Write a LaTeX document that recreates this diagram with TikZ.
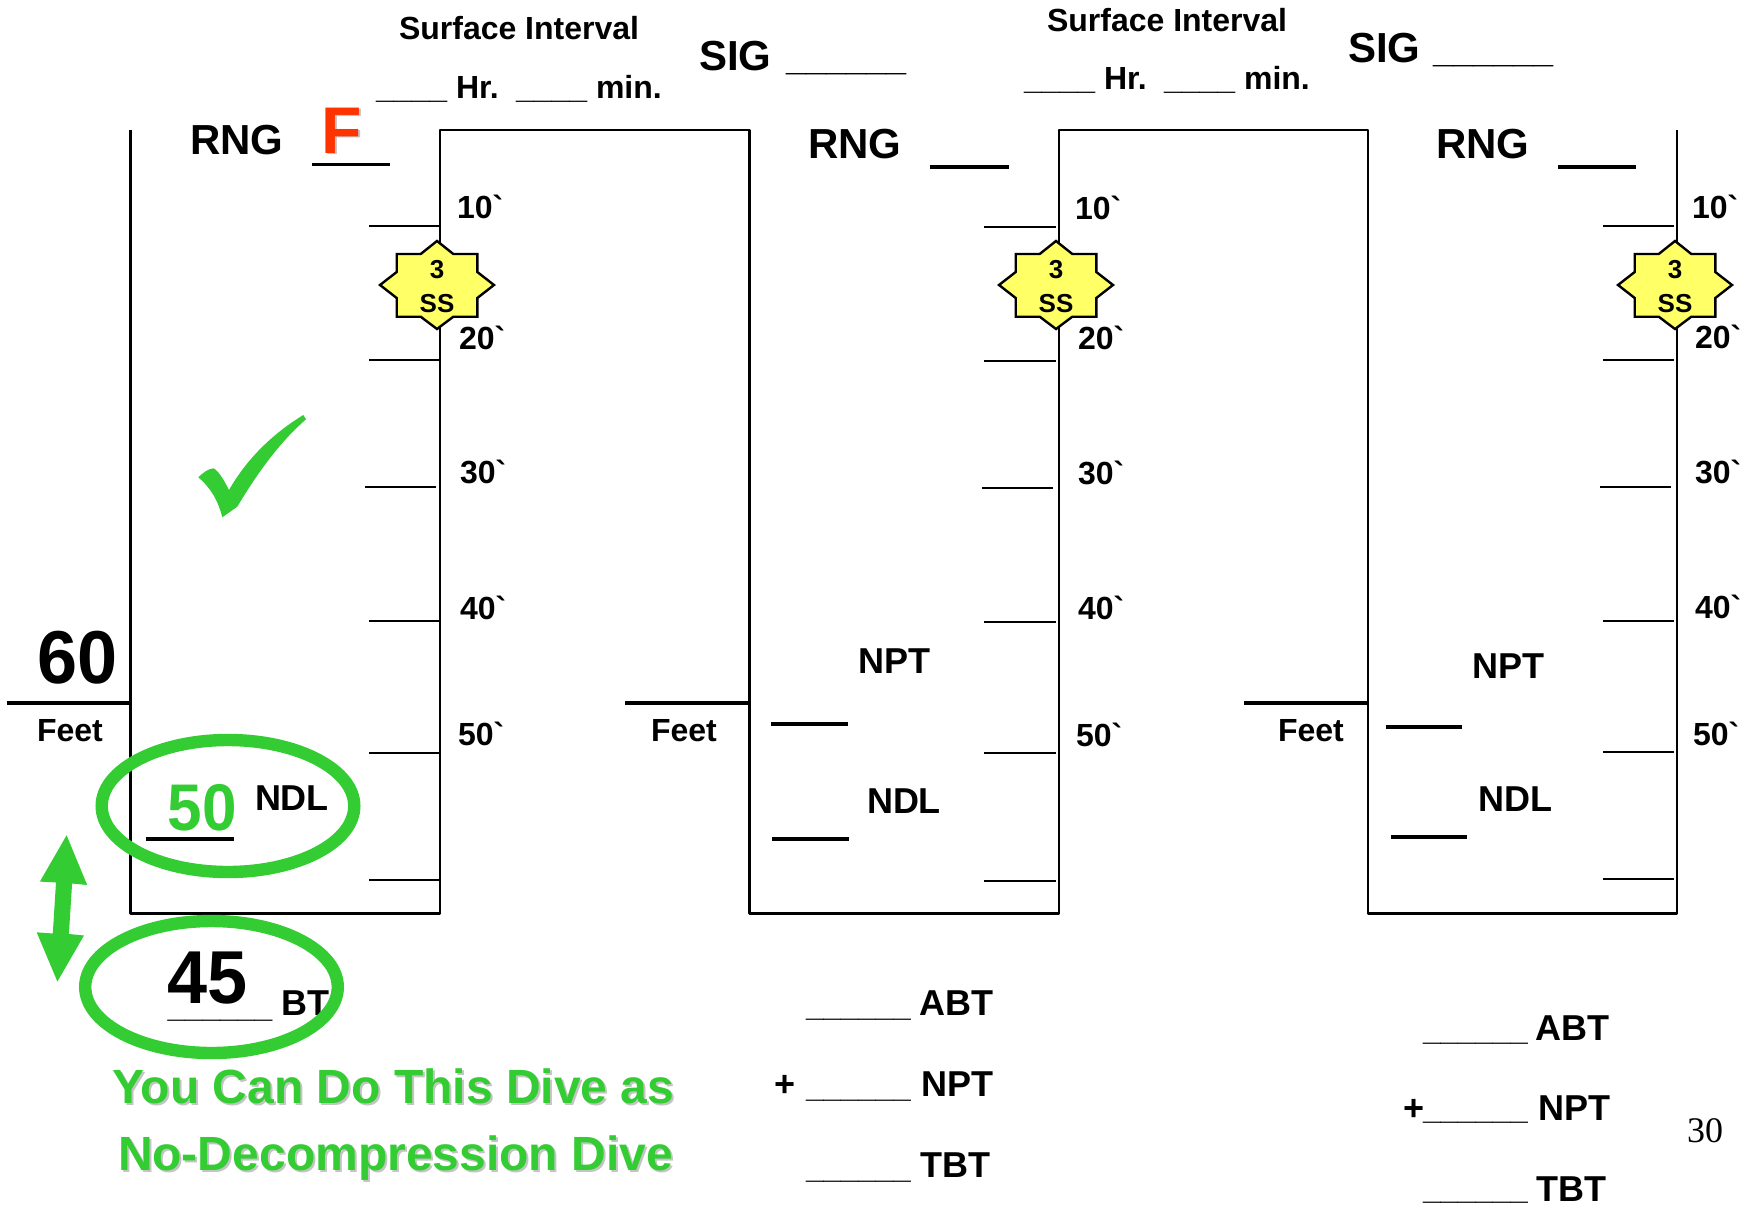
\documentclass[tikz,border=0pt]{standalone}
\usepackage{fontspec}
\usepackage{graphicx}
\newfontfamily\hel{Liberation Sans}
\newfontfamily\tim{Liberation Serif}
\definecolor{grn}{HTML}{33CC33}
\definecolor{star}{HTML}{FFFF66}
\definecolor{red1}{HTML}{FF3300}
\definecolor{shd}{HTML}{C4C4C4}
% \lab{name}{x}{baseline y}{em px}{x squeeze}{text}
\newcommand\fz[1]{\pgfmathsetmacro\fsz{#1/2}\fontsize{\fsz}{\fsz}\selectfont}
\newcommand\lab[6]{\node[lbl] (#1) at (#2,#3) {\fz{#4}\scalebox{#5}[1]{#6}};}
\newcommand\labc[7]{\node[lbl,text=#7] (#1) at (#2,#3) {\fz{#4}\scalebox{#5}[1]{#6}};}
\newcommand\us[1]{\foreach \i in {1,...,#1}{\_}}
\newcommand\stardive[2]{%
  \coordinate (#1) at (#2,285);
  \draw[fill=star,draw=black,line width=1.2pt,line join=miter]
    (#1) ++(0,-44) -- ++(16.3,13) -- ++(24,0) -- ++(0,18) -- ++(16.7,13) -- ++(-16.7,13) -- ++(0,18.7)
    -- ++(-24,0) -- ++(-16.3,12.3) -- ++(-16.3,-12.3) -- ++(-24,0) -- ++(0,-18.7) -- ++(-16.7,-13) -- ++(16.7,-13) -- ++(0,-18) -- ++(24,0) -- cycle;
  \node[lbl,anchor=base] (#1n) at (#2,278) {\fontsize{13}{13}\selectfont 3};
  \node[lbl,anchor=base] (#1s) at (#2,312) {\fontsize{13}{13}\selectfont SS};}
\tikzset{lbl/.style={anchor=base west,inner sep=0pt,outer sep=0pt,font=\hel\bfseries},
  wall/.style={draw=black,line width=1.1pt,line join=round},
  tick/.style={draw=black,line width=0.7pt},
  bar/.style={draw=black,line width=1.8pt},
  ring/.style={draw=grn,line width=6.2pt}}
\begin{document}
\begin{tikzpicture}[x=0.5pt,y=-0.5pt]
\useasboundingbox (0,0) rectangle (1743,1204);
\fill[white] (0,0) rectangle (1743,1204);
% profile
\draw[wall] (130.5,130) -- (130.5,913.5) -- (440,913.5) -- (440,130) -- (749.5,130) -- (749.5,913.5) -- (1059,913.5) -- (1059,130) -- (1368,130) -- (1368,913.5) -- (1677,913.5) -- (1677,130);
% ticks
\foreach \y in {226,360,621,753,880} \draw[tick] (369,\y) -- (440,\y);
\draw[tick] (365,487) -- (436,487);
\foreach \y in {227,361,622,753,881} \draw[tick] (984,\y) -- (1056,\y);
\draw[tick] (982,488) -- (1053,488);
\foreach \y in {226,360,621,752,879} \draw[tick] (1603,\y) -- (1674,\y);
\draw[tick] (1600,487) -- (1671,487);
% tick labels
\lab{a10}{457}{218}{32}{1}{10`}
\lab{a20}{459}{349}{32}{1}{20`}
\lab{a30}{460}{483}{32}{1}{30`}
\lab{a40}{460}{619}{32}{1}{40`}
\lab{a50}{458}{745}{32}{1}{50`}
\lab{b10}{1075}{219}{32}{1}{10`}
\lab{b20}{1078}{349}{32}{1}{20`}
\lab{b30}{1078}{484}{32}{1}{30`}
\lab{b40}{1078}{619}{32}{1}{40`}
\lab{b50}{1076}{746}{32}{1}{50`}
\lab{c10}{1692}{218}{32}{1}{10`}
\lab{c20}{1695}{348}{32}{1}{20`}
\lab{c30}{1695}{483}{32}{1}{30`}
\lab{c40}{1695}{618}{32}{1}{40`}
\lab{c50}{1693}{745}{32}{1}{50`}
% stars
\stardive{sa}{437}
\stardive{sb}{1056}
\stardive{sc}{1675}
% top labels
\lab{si1}{399}{40}{32}{1}{Surface Interval}
\lab{hr1}{376}{98}{32}{1}{\us{4} Hr.}
\lab{mn1}{516}{98}{32}{1}{\us{4} min.}
\lab{sg1}{699}{71}{42}{1}{SIG}
\lab{su1}{786}{71}{36}{1}{\us{6}}
\lab{si2}{1047}{32}{32}{1}{Surface Interval}
\lab{hr2}{1024}{90}{32}{1}{\us{4} Hr.}
\lab{mn2}{1164}{90}{32}{1}{\us{4} min.}
\lab{sg2}{1348}{63}{42}{1}{SIG}
\lab{su2}{1433}{63}{36}{1}{\us{6}}
% RNG
\lab{ra}{190}{155}{42}{1}{RNG}
\draw[bar] (312,164.5) -- (390,164.5);
\labc{fs}{323}{155}{66}{1}{F}{shd}
\labc{fa}{321}{153}{66}{1}{F}{red1}
\lab{rb}{808}{158}{42}{1}{RNG}
\draw[bar] (930,167) -- (1009,167);
\lab{rc}{1436}{158}{42}{1}{RNG}
\draw[bar] (1558,167) -- (1636,167);
% depth
\lab{d60}{37}{683.5}{75}{.96}{60}
\draw[bar] (7,703) -- (130,703);
\lab{fa2}{37}{741}{32}{1}{Feet}
\draw[bar] (625,703) -- (749,703);
\lab{fb2}{651}{741}{32}{1}{Feet}
\draw[bar] (1244,703) -- (1368,703);
\lab{fc2}{1278}{741}{32}{1}{Feet}
% middle NPT/NDL
\lab{npb}{858}{673}{36}{1}{NPT}
\draw[bar] (771,724) -- (848,724);
\lab{ndb}{867}{813}{36}{1}{NDL}
\draw[bar] (772,839) -- (849,839);
\lab{npc}{1472}{678}{36}{1}{NPT}
\draw[bar] (1386,727) -- (1462,727);
\lab{ndc}{1478}{811}{36}{1}{NDL}
\draw[bar] (1391,837) -- (1467,837);
% left column
\labc{v50}{167.6}{830}{66}{.94}{50}{grn}
\draw[bar] (146,839) -- (234,839);
\lab{ndl}{255}{810}{36}{1}{NDL}
\lab{v45}{167.6}{1003.5}{75}{.96}{45}
\lab{uu}{167.6}{1017}{31.4}{1}{\us{6}}
\lab{bt}{281.5}{1015}{36}{1}{BT}
\draw[ring] (228,806) ellipse [x radius=126.3,y radius=66];
\draw[ring] (211.5,987) ellipse [x radius=126.3,y radius=66];
% arrow
\fill[grn] (66.6,835.3) -- (87.2,885) -- (72.1,883.5) -- (68.9,934) -- (84,935.5) -- (57.4,981.5) -- (36.7,932.3) -- (52.8,933.5) -- (56,882.4) -- (39.9,881.6) -- cycle;
% check
\fill[grn] (198.3,477.3) .. controls (204,472) and (208,469) .. (213.3,468.3) .. controls (218,470) and (224,480) .. (229,490) .. controls (248,457) and (274,433) .. (303.3,415) -- (306,419.3) .. controls (280,442) and (258,472) .. (237.3,506.7) -- (222.3,517.3) .. controls (218,500) and (210,487) .. (198.3,477.3) -- cycle;
% green text
\labc{g1s}{114.5}{1105.5}{48}{1}{You Can Do This Dive as}{shd}
\labc{g2s}{120}{1172}{48}{1}{No-Decompression Dive}{shd}
\labc{g1}{112.5}{1103.5}{48}{1}{You Can Do This Dive as}{grn}
\labc{g2}{118}{1170}{48}{1}{No-Decompression Dive}{grn}
% sums mid
\lab{ua1}{806}{1016}{31.4}{1}{\us{6}}
\lab{ta1}{919}{1015}{36}{1}{ABT}
\lab{pl1}{774}{1096}{36}{1}{+}
\lab{ua2}{806}{1097}{31.4}{1}{\us{6}}
\lab{ta2}{921}{1096}{36}{1}{NPT}
\lab{ua3}{806}{1178}{31.4}{1}{\us{6}}
\lab{ta3}{920}{1177}{36}{1}{TBT}
% sums right
\lab{ub1}{1423}{1040}{31.4}{1}{\us{6}}
\lab{tb1}{1535}{1040}{36}{1}{ABT}
\lab{pl2}{1403}{1120}{36}{1}{+}
\lab{ub2}{1423}{1119}{31.4}{1}{\us{6}}
\lab{tb2}{1538}{1120}{36}{1}{NPT}
\lab{ub3}{1423}{1199}{31.4}{1}{\us{6}}
\lab{tb3}{1536}{1201}{36}{1}{TBT}
\node[lbl,font=\tim] (pg) at (1687,1142) {\fontsize{18}{18}\selectfont 30};
\end{tikzpicture}
\end{document}
